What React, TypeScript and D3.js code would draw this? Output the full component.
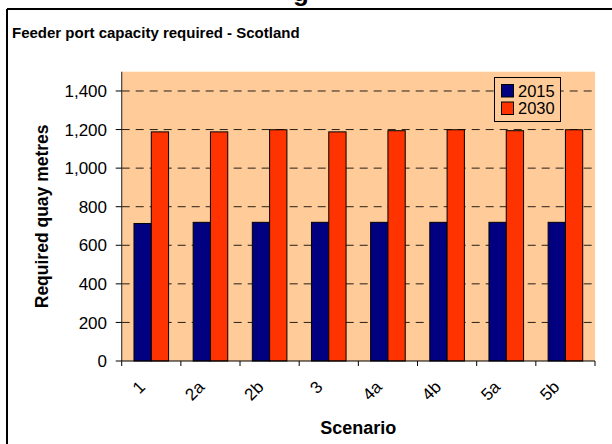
import React from "react";
import * as d3 from "d3";

const categories = ["1", "2a", "2b", "3", "4a", "4b", "5a", "5b"];
const seriesNames = ["2015", "2030"];
const values2015 = [713, 719, 719, 719, 719, 719, 719, 719];
const values2030 = [1188, 1188, 1199, 1188, 1194, 1199, 1194, 1199];
const yTicks = [0, 200, 400, 600, 800, 1000, 1200, 1400];
const colors = ["#000080", "#FF3300"];

const W = 612;
const H = 444;
const plot = { left: 121.7, right: 595, top: 71.7, bottom: 361 };
const font = "Liberation Sans, Arial, sans-serif";

export default function App() {
  const x = d3.scaleBand<string>().domain(categories).range([plot.left, plot.right]);
  const xs = d3
    .scaleBand<string>()
    .domain(seriesNames)
    .range([0, x.bandwidth()])
    .paddingInner(0)
    .paddingOuter(0.71);
  const y = d3.scaleLinear().domain([0, 1500]).range([plot.bottom, plot.top]);
  const fmt = d3.format(",");
  const seriesValues = [values2015, values2030];
  const boundaries = [...categories.map((c) => x(c) as number), plot.right];

  return (
    <svg
      width={W}
      height={H}
      style={{ position: "absolute", left: 0, top: 0, background: "#fff" }}
    >
      {/* cut-off caption glyph above frame */}
      <text x={293} y={1} fontFamily={font} fontWeight="bold" fontSize={26} fill="#000">
        g
      </text>
      {/* outer frame */}
      <line x1={7} y1={9} x2={W + 5} y2={9} stroke="#000" strokeWidth={2} />
      <line x1={7} y1={9} x2={7} y2={H + 5} stroke="#000" strokeWidth={2} />

      <text x={12} y={38} fontFamily={font} fontWeight="bold" fontSize={15} fill="#000">
        Feeder port capacity required - Scotland
      </text>

      {/* plot background */}
      <rect
        x={plot.left}
        y={plot.top}
        width={plot.right - plot.left}
        height={plot.bottom - plot.top}
        fill="#FFCC99"
      />

      {/* gridlines */}
      {yTicks
        .filter((t) => t > 0)
        .map((t) => (
          <line
            key={"g" + t}
            x1={plot.left}
            x2={plot.right}
            y1={y(t)}
            y2={y(t)}
            stroke="#000"
            strokeWidth={1}
            strokeDasharray="8,6"
            opacity={0.85}
          />
        ))}

      {/* bars */}
      {categories.map((c, i) =>
        seriesNames.map((s, j) => (
          <rect
            key={c + s}
            x={(x(c) as number) + (xs(s) as number)}
            y={y(seriesValues[j][i])}
            width={xs.bandwidth()}
            height={plot.bottom - y(seriesValues[j][i])}
            fill={colors[j]}
            stroke="#000"
            strokeWidth={1}
          />
        ))
      )}

      {/* axes */}
      <line x1={plot.left} x2={plot.left} y1={plot.top} y2={plot.bottom} stroke="#404040" strokeWidth={1.2} />
      <line x1={plot.left} x2={plot.right} y1={plot.bottom} y2={plot.bottom} stroke="#000" strokeWidth={1.2} />
      {yTicks.map((t) => (
        <g key={"yt" + t}>
          <line x1={plot.left - 6} x2={plot.left} y1={y(t)} y2={y(t)} stroke="#000" />
          <text
            x={107}
            y={y(t)}
            dy="0.36em"
            textAnchor="end"
            fontFamily={font}
            fontSize={17}
            fill="#000"
          >
            {fmt(t)}
          </text>
        </g>
      ))}
      {boundaries.map((b, i) => (
        <line key={"xt" + i} x1={b} x2={b} y1={plot.bottom} y2={plot.bottom + 5} stroke="#000" />
      ))}
      {categories.map((c) => {
        const cx = (x(c) as number) + x.bandwidth() / 2;
        return (
          <text
            key={"xl" + c}
            transform={`translate(${cx - 5},${plot.bottom + 27}) rotate(-45)`}
            textAnchor="end"
            fontFamily={font}
            fontSize={17}
            fill="#000"
          >
            {c}
          </text>
        );
      })}

      {/* axis titles */}
      <text
        x={(plot.left + plot.right) / 2}
        y={434}
        textAnchor="middle"
        fontFamily={font}
        fontWeight="bold"
        fontSize={18}
        fill="#000"
      >
        Scenario
      </text>
      <text
        transform={`translate(48,${(plot.top + plot.bottom) / 2}) rotate(-90)`}
        textAnchor="middle"
        fontFamily={font}
        fontWeight="bold"
        fontSize={17.5}
        fill="#000"
      >
        Required quay metres
      </text>

      {/* legend */}
      <rect x={494.5} y={77.5} width={66} height={44} fill="#FFCC99" stroke="#000" strokeWidth={1} />
      {seriesNames.map((s, j) => (
        <g key={"lg" + s}>
          <rect
            x={501.5}
            y={84.5 + j * 17.5}
            width={12}
            height={12.5}
            fill={colors[j]}
            stroke="#000"
            strokeWidth={1}
          />
          <text x={518} y={96.5 + j * 17.5} fontFamily={font} fontSize={16.5} fill="#000">
            {s}
          </text>
        </g>
      ))}
    </svg>
  );
}
